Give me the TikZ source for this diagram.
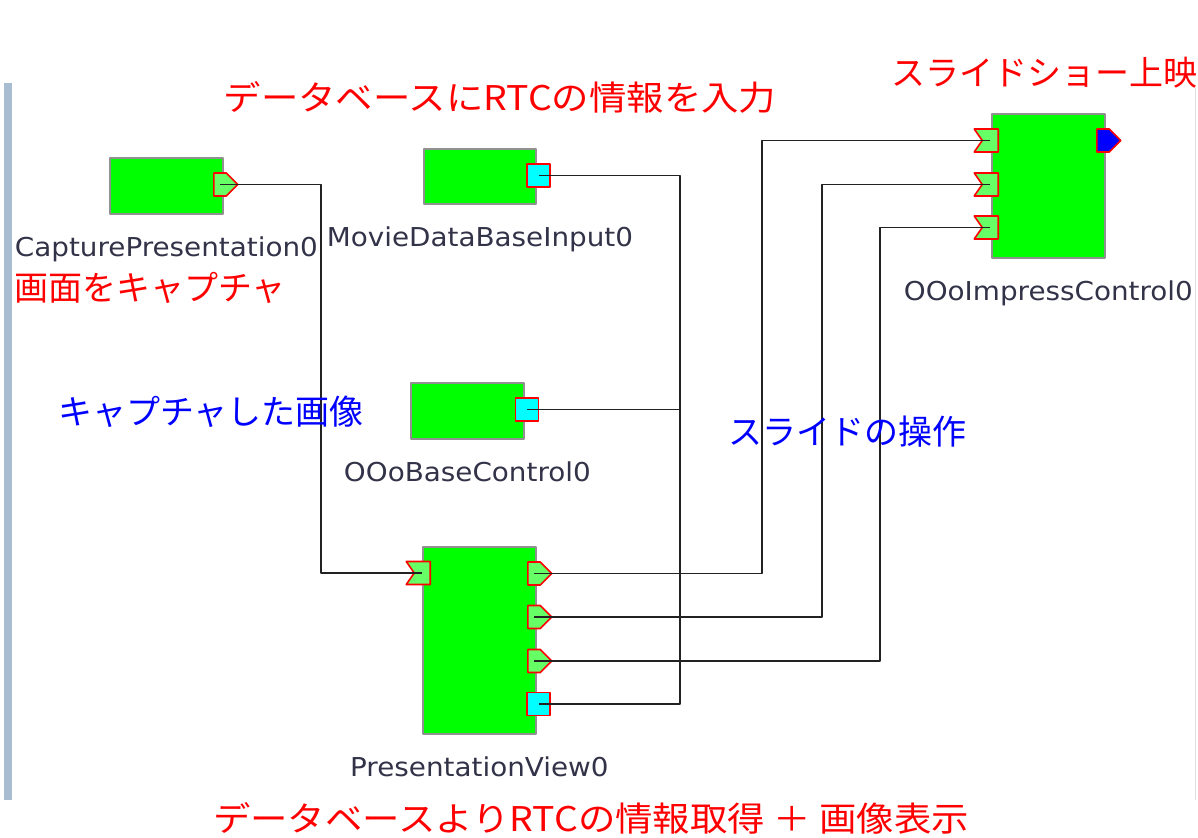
\documentclass[tikz,border=0pt]{standalone}
\usepackage{fontspec}
\setmainfont[FakeStretch=1.07]{DejaVu Sans}
\newfontfamily\jpfont{Noto Sans CJK JP}
\newfontfamily\jpwide[FakeStretch=1.1]{Noto Sans CJK JP}
\usetikzlibrary{shapes.symbols,positioning}
\definecolor{rtgreen}{RGB}{0,255,0}
\definecolor{portgreen}{RGB}{102,255,102}
\definecolor{rtcyan}{RGB}{0,255,255}
\definecolor{rtblue}{RGB}{0,0,255}
\definecolor{rtred}{RGB}{255,0,0}
\definecolor{namegray}{RGB}{50,50,72}
\definecolor{barblue}{RGB}{168,188,210}
\definecolor{wiregray}{RGB}{34,34,34}
\definecolor{boxgray}{RGB}{145,145,145}
\begin{document}
\begin{tikzpicture}[x=1pt,y=-1pt,line join=round,
	comp/.style={draw=boxgray,fill=rtgreen,line width=1.8pt,inner sep=0pt,anchor=north west},
	outport/.style={signal,signal to=east,signal pointer angle=90,draw=rtred,fill=portgreen,line width=1.6pt,inner sep=0pt,minimum width=24pt,minimum height=23pt,anchor=west},
	inport/.style={signal,signal to=nowhere,signal from=west,signal pointer angle=110,draw=rtred,fill=portgreen,line width=1.6pt,inner sep=0pt,minimum width=24pt,minimum height=23pt,anchor=east},
	dport/.style={rectangle,draw=rtred,fill=rtcyan,line width=1.6pt,inner sep=0pt,minimum size=23pt},
	wire/.style={draw=wiregray,line width=1.8pt},
	rtcname/.style={text=namegray,font=\fontsize{26}{30}\selectfont,inner sep=0pt},
	jpred/.style={text=rtred,font=\jpfont\fontsize{34}{40}\selectfont,inner sep=0pt},
	jpblue/.style={text=rtblue,font=\jpfont\fontsize{34}{40}\selectfont,inner sep=0pt}]
	\useasboundingbox (0,0) rectangle (1198,837);
	% panel edges
	\fill[barblue] (4,83) rectangle (12,800);
	\draw[gray!25,line width=1pt] (1195,88)--(1195,800);
	% components
	\node[comp,minimum width=113pt,minimum height=56pt] (cap) at (109,157) {};
	\node[comp,minimum width=112pt,minimum height=55pt] (mdb) at (423,148) {};
	\node[comp,minimum width=113pt,minimum height=56pt] (base) at (410,382) {};
	\node[comp,minimum width=113pt,minimum height=187pt] (pv) at (422,546) {};
	\node[comp,minimum width=113pt,minimum height=144pt] (imp) at (991,113) {};
	% ports
	\node[outport] (cap-o) at (213,184.5) {};
	\node[dport] (mdb-d) at (538.5,175.5) {};
	\node[dport] (base-d) at (527,409.5) {};
	\node[inport] (pv-i) at (431,573) {};
	\node[outport] (pv-o1) at (527,573.5) {};
	\node[outport] (pv-o2) at (527,617) {};
	\node[outport] (pv-o3) at (527,661) {};
	\node[dport] (pv-d) at (538.5,704) {};
	\node[inport] (imp-i1) at (999,140.5) {};
	\node[inport] (imp-i2) at (999,184.5) {};
	\node[inport] (imp-i3) at (999,227.5) {};
	\node[outport,fill=rtblue] (imp-o) at (1096,140.5) {};
	% connections
	\draw[wire] (cap-o.center) -| (321,400) |- (pv-i.center);
	\draw[wire] (mdb-d.center) -| (680,400) |- (pv-d.center);
	\draw[wire] (base-d.center) -- (680,409.5);
	\draw[wire] (pv-o1.center) -| (762,400) |- (imp-i1.center);
	\draw[wire] (pv-o2.center) -| (822,400) |- (imp-i2.center);
	\draw[wire] (pv-o3.center) -| (880,400) |- (imp-i3.center);
	% names
	\node[rtcname,below=22pt of cap] (cap-name) {CapturePresentation0};
	\node[rtcname,below=22pt of mdb] (mdb-name) {MovieDataBaseInput0};
	\node[rtcname,below=22pt of base] (base-name) {OOoBaseControl0};
	\node[rtcname,below=22pt of pv] (pv-name) {PresentationView0};
	\node[rtcname,below=22pt of imp] (imp-name) {OOoImpressControl0};
	% notes
	\node[jpred,anchor=west] (note-cap) at (14,288) {画面をキャプチャ};
	\node[jpred,font=\jpwide\fontsize{34}{40}\selectfont] (note-db) at (500,97) {データベースにRTCの情報を入力};
	\node[jpred] (note-show) at (1044,73) {スライドショー上映};
	\node[jpblue] (note-img) at (211,412) {キャプチャした画像};
	\node[jpblue] (note-op) at (847,432) {スライドの操作};
	\node[jpred,font=\jpwide\fontsize{34}{40}\selectfont] (note-view) at (591,818) {データベースよりRTCの情報取得 ＋ 画像表示};
\end{tikzpicture}
\end{document}
